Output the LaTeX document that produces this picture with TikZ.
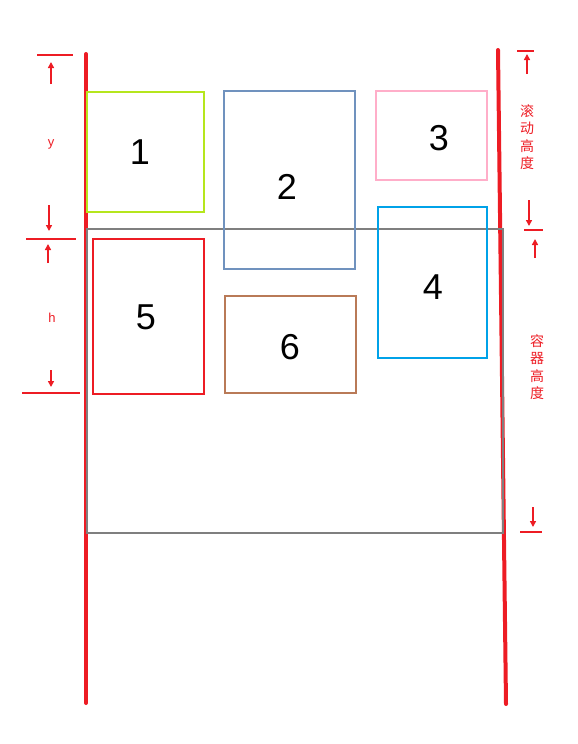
\documentclass[tikz,border=0pt]{standalone}
\usepackage{fontspec}
\setmainfont{Liberation Sans}
\newfontfamily\cjk{Noto Sans CJK SC}
\usetikzlibrary{arrows.meta}
\definecolor{cRed}{HTML}{ED1C24}
\definecolor{cLime}{HTML}{B5E61D}
\definecolor{cSteel}{HTML}{7092BE}
\definecolor{cRose}{HTML}{FFAEC9}
\definecolor{cSky}{HTML}{00A2E8}
\definecolor{cBrown}{HTML}{B97A57}
\definecolor{cGray}{HTML}{7F7F7F}
\begin{document}
\begin{tikzpicture}[x=1pt,y=-1pt,
    wall/.style={cRed,line width=4pt,line cap=round},
    box/.style={line width=1.6pt},
    num/.style={font=\fontsize{36}{36}\selectfont},
    tick/.style={cRed,line width=1.8pt},
    dim/.style={cRed,line width=1.8pt,-{Triangle[length=6pt,width=6pt]}},
    tag/.style={cRed,font=\fontsize{13}{13}\selectfont},
    cjktag/.style={cRed,align=center,font=\cjk\fontsize{14}{17.5}\selectfont}]
    \useasboundingbox (0,0) rectangle (578,744);

    %WALLS (left and right)
    \draw[wall] (86,54)--(86,703);
    \draw[wall] (498,50)--(506,704);

    %CONTAINER
    \draw[cGray,line width=1.6pt] (87,229) rectangle (503,533);

    %ITEMS: number/colour/corner/corner/label
    \foreach \n/\c/\xa/\ya/\xb/\yb/\lx/\ly in {
        1/cLime/87/92/204/212/140/152,
        2/cSteel/224/91/355/269/287/187,
        3/cRose/376/91/487/180/439/138,
        4/cSky/378/207/487/358/433/287,
        5/cRed/93/239/204/394/146/317,
        6/cBrown/225/296/356/393/290/347}{
        \draw[box,\c] (\xa,\ya) rectangle (\xb,\yb);
        \node[num] (n\n) at (\lx,\ly) {\n};
    } %end of item loop

    %LEFT: y and h
    \draw[tick] (37,55)--(73,55);
    \draw[tick] (26,239)--(76,239);
    \draw[tick] (22,393)--(80,393);
    \draw[dim] (51,84)--(51,62);
    \draw[dim] (49,205)--(49,231);
    \draw[dim] (48,263)--(48,244);
    \draw[dim] (51,370)--(51,387);
    \node[tag] (y) at (51,144) {y};
    \node[tag] (h) at (52,318) {h};

    %RIGHT: scroll height and container height
    \draw[tick] (517,51)--(534,51);
    \draw[tick] (524,230)--(543,230);
    \draw[tick] (520,532)--(542,532);
    \draw[dim] (527,74)--(527,54);
    \draw[dim] (529,200)--(529,226);
    \draw[dim] (535,258)--(535,239);
    \draw[dim] (533,507)--(533,527);
    \node[cjktag] (scroll) at (527,137) {滚\\动\\高\\度};
    \node[cjktag] (cont) at (537,367) {容\\器\\高\\度};
\end{tikzpicture}
\end{document}
